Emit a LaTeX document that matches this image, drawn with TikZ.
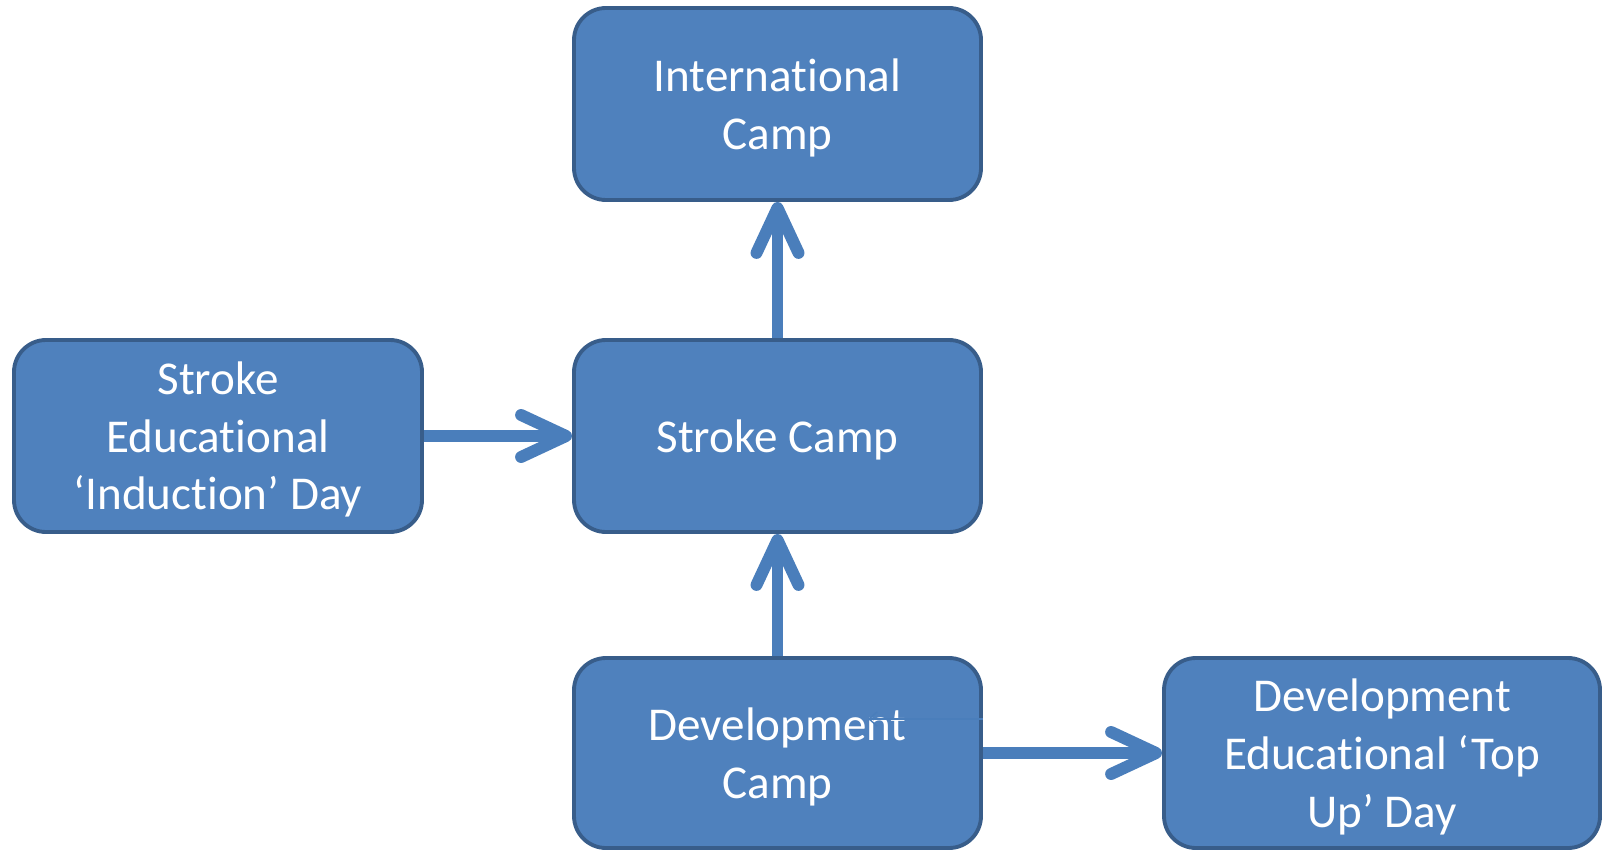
\documentclass[tikz,border=0pt]{standalone}
\usepackage{fontspec}
\setmainfont[Ligatures={NoCommon,NoRequired,NoContextual},Contextuals=NoAlternate]{Carlito}
\usetikzlibrary{arrows.meta}
\definecolor{boxfill}{HTML}{4F81BD}
\definecolor{boxline}{HTML}{385D8A}
\definecolor{linkblue}{HTML}{4A7EBB}
\tikzset{
  campbox/.style={draw=boxline, fill=boxfill, line width=1.1pt, rounded corners=0.32cm,
    minimum width=4.07cm, minimum height=1.92cm, inner sep=0pt, text=white, align=center,
    font=\fontsize{13.4}{16.4}\selectfont, text depth=-0.7mm},
  link/.style={draw=linkblue, line width=3.4pt, -{Straight Barb[round,length=4.5mm,width=4.2mm]}},
}
\begin{document}
\begin{tikzpicture}
  \useasboundingbox (0,0) rectangle (16.03,8.51);
  % boxes
  \node[campbox] (intl) at (7.775,7.47) {International\\Camp};
  \node[campbox] (stroke) at (7.775,4.15) {Stroke Camp};
  \node[campbox, minimum width=4.08cm] (induction) at (2.18,4.15) {Stroke\\Educational\\`Induction' Day};
  \node[campbox, minimum height=1.90cm] (devel) at (7.775,0.98) {Development\\Camp};
  \node[campbox, minimum width=4.36cm, minimum height=1.90cm] (topup) at (13.82,0.98) {Development\\Educational `Top\\Up' Day};
  % links
  \draw[link] (stroke) -- (intl);
  \draw[link] (induction) -- (stroke);
  \draw[link] (devel) -- (stroke);
  \draw[link] (devel) -- (topup);
  % stray line
  \coordinate (stray) at (8.68,1.32);
  \draw[linkblue, line width=0.4pt, -{Straight Barb[length=0.8mm,width=1.4mm]}] (devel.east |- stray) -- (stray);
\end{tikzpicture}
\end{document}
